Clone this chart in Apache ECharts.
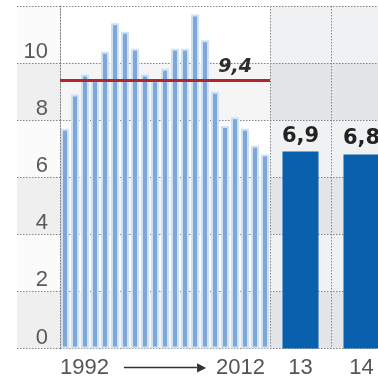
<!DOCTYPE html>
<html>
<head>
<meta charset="utf-8">
<script src="https://cdn.jsdelivr.net/npm/echarts@6/dist/echarts.min.js"></script>
<style>
  html, body { margin: 0; padding: 0; background: #ffffff; }
  #chart { width: 378px; height: 383px; }
</style>
</head>
<body>
<div id="chart"></div>
<script>
// Annual values 1992–2012
const years = ['1992','1993','1994','1995','1996','1997','1998','1999','2000','2001','2002',
               '2003','2004','2005','2006','2007','2008','2009','2010','2011','2012'];
const history = [7.7, 8.9, 9.6, 9.4, 10.4, 11.4, 11.1, 10.5, 9.6, 9.4, 9.8,
                 10.5, 10.5, 11.7, 10.8, 9.0, 7.8, 8.1, 7.7, 7.1, 6.8];
// Forecast years
const forecastLabels = ['13', '14'];
const forecast = [6.9, 6.8];
// Long-run average
const average = 9.4;
// Value axis
const yMin = 0, yMax = 12, yStep = 2;

const comma = v => String(v).replace('.', ',');
const tickFont = '"Liberation Sans", Arial, sans-serif';
const tickSize = 22;
const dotted = { color: '#858585', width: 1, type: [1.5, 1.5] };
const gridTop = 6, gridBottom = 34.5;

function valueAxis(gridIndex, bands, extra) {
  return Object.assign({
    type: 'value', gridIndex, min: yMin, max: yMax, interval: yStep,
    axisLabel: { show: false }, axisTick: { show: false },
    axisLine: { show: false },
    splitLine: { show: true, lineStyle: dotted },
    splitArea: { show: true, areaStyle: { color: bands } }
  }, extra || {});
}

const option = {
  animation: false,
  backgroundColor: '#ffffff',
  grid: [
    { left: 17, width: 43, top: gridTop, bottom: gridBottom, outerBoundsMode: 'none' },
    { left: 60, width: 210, top: gridTop, bottom: gridBottom, outerBoundsMode: 'none' },
    { left: 270, right: -14, top: gridTop, bottom: gridBottom, outerBoundsMode: 'none' }
  ],
  xAxis: [
    { type: 'value', gridIndex: 0, show: false, min: 0, max: 1 },
    {
      type: 'category', gridIndex: 1, data: years,
      axisLine: { show: false }, axisTick: { show: false },
      axisLabel: {
        interval: 0, margin: 8, padding: [0, 5, 0, 0],
        formatter: (v, i) => i === Math.floor(years.length / 2)
          ? '{y|' + years[0] + '}{g1|}{line|}{head|▶}{g2|}{y|' + years[years.length - 1] + '}'
          : '',
        rich: {
          y: { fontFamily: tickFont, fontSize: tickSize, color: '#555555' },
          g1: { width: 15 },
          line: { width: 73, height: 1.6, backgroundColor: '#333333' },
          head: { fontSize: 12, color: '#333333', fontFamily: 'DejaVu Sans' },
          g2: { width: 10 }
        }
      }
    },
    {
      type: 'category', gridIndex: 2, data: forecastLabels,
      axisLine: { show: false }, axisTick: { show: false },
      axisLabel: { margin: 8, fontFamily: tickFont, fontSize: tickSize, color: '#555555' },
      splitLine: { show: true, interval: 0, lineStyle: dotted }
    }
  ],
  yAxis: [
    valueAxis(0, ['#efefef', '#fbfbfb']),
    valueAxis(1, ['#f5f5f5', '#ffffff'], {
      axisLine: { show: true, lineStyle: dotted },
      axisLabel: {
        show: true, margin: 12, verticalAlign: 'bottom',
        fontFamily: tickFont, fontSize: tickSize, color: '#5a5a5a',
        formatter: v => (v >= yMax ? '' : String(v))
      }
    }),
    valueAxis(2, ['#e3e5e8', '#eff1f3'])
  ],
  series: [
    {
      type: 'bar', xAxisIndex: 1, yAxisIndex: 1, data: history,
      barWidth: 8,
      itemStyle: { color: '#7ea6d6', borderColor: '#cfe1f5', borderWidth: 2 },
      markLine: {
        silent: true, symbol: 'none',
        data: [{ yAxis: average }],
        lineStyle: { color: '#b3262b', width: 3, type: 'solid' },
        label: {
          show: true, position: 'insideEndTop', distance: [18, 4],
          formatter: () => comma(average),
          color: '#2e2e2e', fontFamily: 'DejaVu Sans', fontStyle: 'italic',
          fontWeight: 'bold', fontSize: 19
        }
      }
    },
    {
      type: 'bar', xAxisIndex: 2, yAxisIndex: 2, data: forecast,
      barWidth: 36,
      itemStyle: { color: '#0b60ae' },
      label: {
        show: true, position: 'top', distance: 5,
        formatter: p => comma(p.value),
        color: '#222222', fontFamily: 'DejaVu Sans', fontWeight: 'bold', fontSize: 21
      }
    }
  ]
};

const chart = echarts.init(document.getElementById('chart'), null, { renderer: 'canvas' });
chart.setOption(option);
</script>
</body>
</html>
